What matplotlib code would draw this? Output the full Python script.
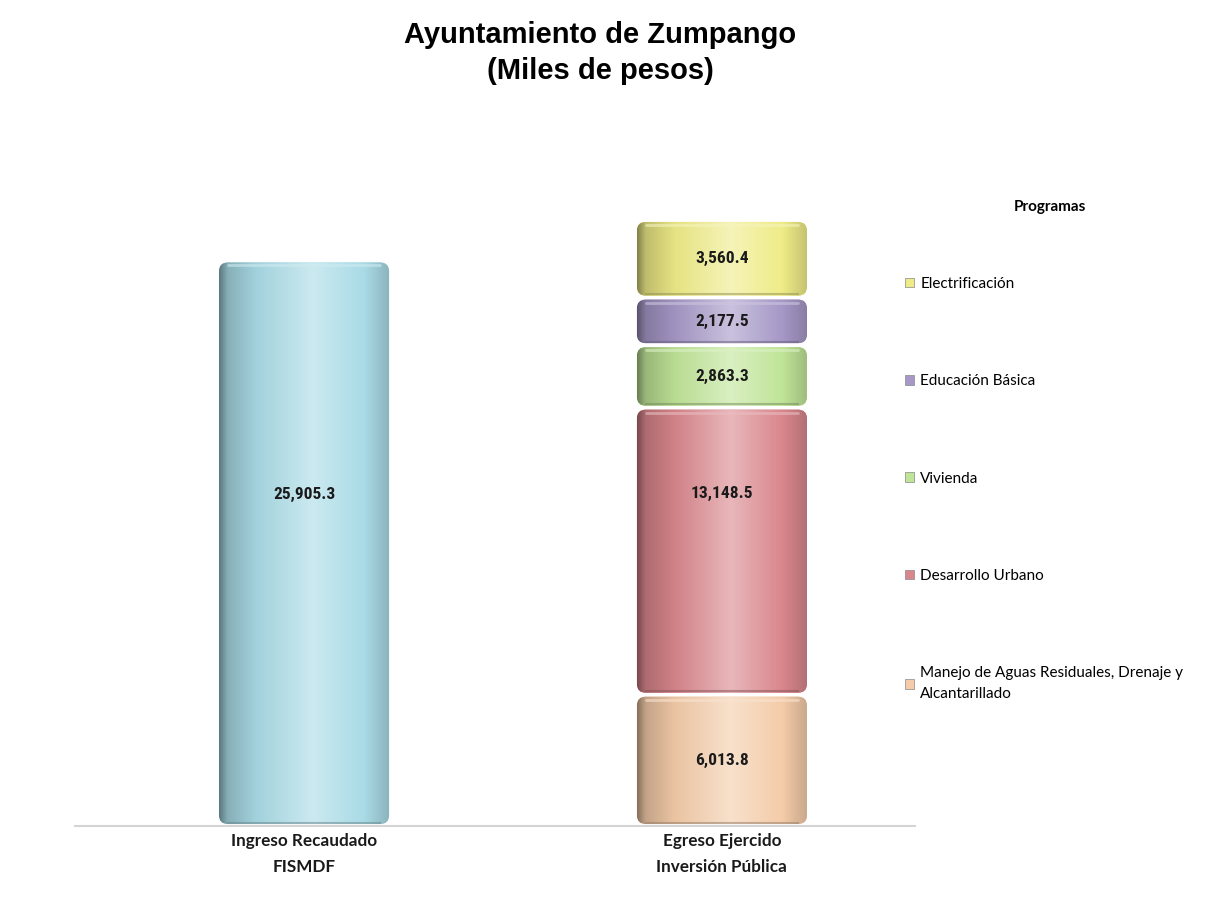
import numpy as np
import matplotlib.pyplot as plt
from matplotlib.patches import FancyBboxPatch, Patch
from matplotlib.colors import LinearSegmentedColormap, to_rgb

# data (miles de pesos)
categorias = ["Ingreso Recaudado\nFISMDF", "Egreso Ejercido\nInversión Pública"]
ingreso = 25905.3
programas = ["Manejo de Aguas Residuales, Drenaje y\nAlcantarillado",
             "Desarrollo Urbano", "Vivienda", "Educación Básica", "Electrificación"]
egreso = [6013.8, 13148.5, 2863.3, 2177.5, 3560.4]

color_ingreso = "#a9dbe6"
colores = ["#f4cca9", "#d9878d", "#c0e598", "#a698c7", "#efec88"]
# where the label sits inside each segment (fraction of its height)
frac_ingreso = 0.587
frac_egreso = [0.5, 0.70, 0.5, 0.5, 0.5]

W, H = 1205, 905
fig = plt.figure(figsize=(W / 100, H / 100), dpi=100)
ax = fig.add_axes([75 / W, (H - 826) / H, 840 / W, (826 - 150) / H])
XLIM = (-0.548, 1.462)
YLIM = (0, 30967)
ax.set_xlim(*XLIM)
ax.set_ylim(*YLIM)

bar_w = 0.407
gap = 180.0
# data units per pixel, used to keep the rounded corners circular
xpp = (XLIM[1] - XLIM[0]) / 840
ypp = (YLIM[1] - YLIM[0]) / (826 - 150)
asp = ypp / xpp
rnd = 9 * xpp

grad = np.linspace(0, 1, 256).reshape(1, -1)
label_font = ["Roboto Condensed", "DejaVu Sans Condensed", "Liberation Sans Narrow",
              "Liberation Sans"]


def cyl_cmap(c):
    c = np.array(to_rgb(c))
    light = c + (1 - c) * 0.4
    stops = [(0.0, c * 0.55), (0.05, c * 0.8), (0.22, c * 0.96),
             (0.55, light), (0.85, c), (1.0, c * 0.82)]
    return LinearSegmentedColormap.from_list("cyl", [(p, tuple(np.clip(v, 0, 1))) for p, v in stops])


def cylinder(x, y0, h, color, label, frac):
    bot = y0 + gap / 2
    top = y0 + h - gap / 2
    patch = FancyBboxPatch((x - bar_w / 2, bot), bar_w, top - bot,
                           boxstyle=f"round,pad=0,rounding_size={rnd}",
                           mutation_aspect=asp, fc=color, ec="none", zorder=2)
    ax.add_patch(patch)
    im = ax.imshow(grad, cmap=cyl_cmap(color), aspect="auto", interpolation="bicubic",
                   extent=(x - bar_w / 2, x + bar_w / 2, bot, top), zorder=2)
    im.set_clip_path(patch)
    # soft rim at the top, darker edge at the bottom
    c = np.array(to_rgb(color))
    ax.plot([x - bar_w / 2 + rnd, x + bar_w / 2 - rnd], [top - 3 * ypp] * 2,
            color=tuple(c + (1 - c) * 0.45), lw=2, alpha=0.6, zorder=3,
            solid_capstyle="round")
    ax.plot([x - bar_w / 2 + rnd, x + bar_w / 2 - rnd], [bot + 1.5 * ypp] * 2,
            color=tuple(c * 0.6), lw=1.5, alpha=0.5, zorder=3)
    ax.text(x, y0 + h * frac, label, ha="center", va="center", fontsize=12.5,
            fontweight="bold", color="#1a1a1a", zorder=4, family=label_font)


cylinder(0, 0, ingreso, color_ingreso, f"{ingreso:,.1f}", frac_ingreso)
base = 0.0
for v, c, f in zip(egreso, colores, frac_egreso):
    cylinder(1, base, v, c, f"{v:,.1f}", f)
    base += v

ax.set_xlim(*XLIM)
ax.set_ylim(*YLIM)
for s in ["top", "left", "right"]:
    ax.spines[s].set_visible(False)
ax.spines["bottom"].set_color("#d4d4d4")
ax.spines["bottom"].set_linewidth(1.5)
ax.set_yticks([])
ax.set_xticks([0, 1])
ax.set_xticklabels(categorias, fontsize=12.3, fontweight="bold", family="Lato",
                   linespacing=1.75, color="#1a1a1a")
ax.tick_params(axis="x", length=0, pad=5)

fig.text(600 / W, 1 - 53 / H, "Ayuntamiento de Zumpango\n(Miles de pesos)",
         ha="center", va="center", fontsize=21, fontweight="bold",
         family="Liberation Sans", linespacing=1.4)

handles = [Patch(fc=c, ec="#888888", lw=0.5) for c in colores][::-1]
leg = fig.legend(handles, programas[::-1], loc="upper left",
                 bbox_to_anchor=(905 / W, 1 - 277 / H), frameon=False,
                 prop={"family": "Lato", "size": 11}, labelspacing=5.45,
                 handlelength=0.6, handleheight=0.6, handletextpad=0.4,
                 borderpad=0, borderaxespad=0)
for t in leg.get_texts():
    t.set_linespacing(1.65)
fig.text(1050 / W, 1 - 207 / H, "Programas", ha="center", va="center",
         fontsize=11, fontweight="bold", family="Lato")

fig.savefig("out.png", dpi=100, facecolor="white")
